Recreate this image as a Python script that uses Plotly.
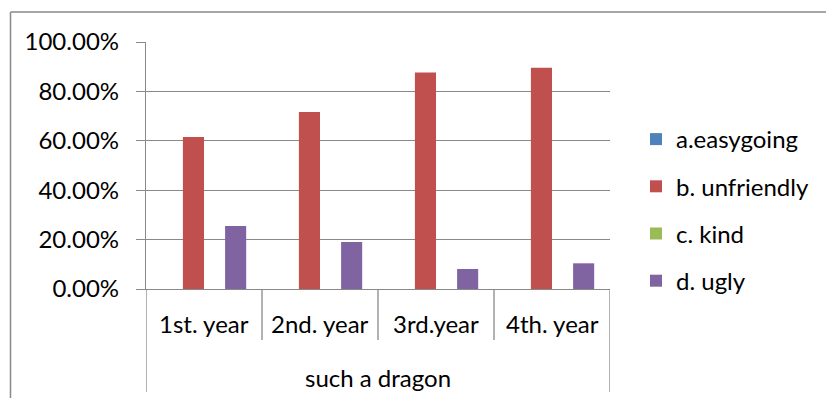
import plotly.graph_objects as go

categories = ["1st. year", "2nd. year", "3rd.year", "4th. year"]
group_label = "such a dragon"
series_names = ["a.easygoing", "b. unfriendly", "c. kind", "d. ugly"]
series_colors = ["#4F81BD", "#C0504D", "#9BBB59", "#8064A2"]
a_values = [0.0, 0.0, 0.0, 0.0]
b_values = [0.615, 0.717, 0.877, 0.896]
c_values = [0.0, 0.0, 0.0, 0.0]
d_values = [0.255, 0.190, 0.081, 0.104]
y_ticks = [0, 0.2, 0.4, 0.6, 0.8, 1.0]

W, H = 826, 398
L, R, T, B = 146, 216, 42, 109
pw, ph = W - L - R, H - T - B
FONT = "Lato"
FS = 24
GREY = "#898989"

def py(pix):
    return (H - B - pix) / ph

def px(pix):
    return (pix - L) / pw

fig = go.Figure()
for i, (name, vals, col) in enumerate(zip(series_names, [a_values, b_values, c_values, d_values], series_colors)):
    fig.add_trace(go.Bar(x=list(range(len(categories))), y=vals, name=name,
                         marker=dict(color=col, line=dict(width=0)),
                         legendgroup=str(i)))

shapes = []
n = len(categories)
for k in range(1, n):
    shapes.append(dict(type="line", xref="x", yref="paper", x0=k - 0.5, x1=k - 0.5,
                       y0=0, y1=py(340), line=dict(color=GREY, width=1.3)))
for xv in [-0.5, n - 0.5]:
    shapes.append(dict(type="line", xref="x", yref="paper", x0=xv, x1=xv,
                       y0=0, y1=py(392), line=dict(color=GREY, width=1.3)))
shapes.append(dict(type="line", xref="paper", yref="paper", x0=px(10.5), x1=px(830),
                   y0=py(12), y1=py(12), line=dict(color=GREY, width=1.5)))
shapes.append(dict(type="line", xref="paper", yref="paper", x0=px(10.5), x1=px(10.5),
                   y0=py(12), y1=py(400), line=dict(color=GREY, width=1.5)))

annotations = []
for k, cat in enumerate(categories):
    annotations.append(dict(x=k, y=py(323), xref="x", yref="paper", text=cat, showarrow=False,
                            font=dict(family=FONT, size=FS, color="#000000"),
                            xanchor="center", yanchor="middle"))
annotations.append(dict(x=(n - 1) / 2, y=py(377), xref="x", yref="paper", text=group_label,
                        showarrow=False, font=dict(family=FONT, size=FS, color="#000000"),
                        xanchor="center", yanchor="middle"))

fig.update_layout(
    width=W, height=H,
    margin=dict(l=L, r=R, t=T, b=B, pad=0),
    paper_bgcolor="white", plot_bgcolor="white",
    barmode="group", bargap=1.5 / 5.5, bargroupgap=0,
    font=dict(family=FONT, size=FS, color="#000000"),
    xaxis=dict(range=[-0.5, n - 0.5], showticklabels=False, ticks="", showgrid=False,
               showline=True, linecolor=GREY, linewidth=1.3, zeroline=False, fixedrange=True),
    yaxis=dict(range=[0, 1], tickvals=y_ticks, tickformat=".2%", showgrid=True,
               gridcolor=GREY, gridwidth=1.3, ticks="outside", ticklen=9, tickcolor=GREY,
               tickwidth=1.3, showline=True, linecolor=GREY, linewidth=1.3, zeroline=False,
               ticklabelstandoff=12, tickfont=dict(family=FONT, size=FS)),
    legend=dict(x=px(636), y=py(117), xanchor="left", yanchor="top",
                font=dict(family=FONT, size=FS), tracegroupgap=13, traceorder="grouped",
                bgcolor="rgba(0,0,0,0)", itemwidth=30),
    shapes=shapes, annotations=annotations,
)

fig.write_html("out.html")
